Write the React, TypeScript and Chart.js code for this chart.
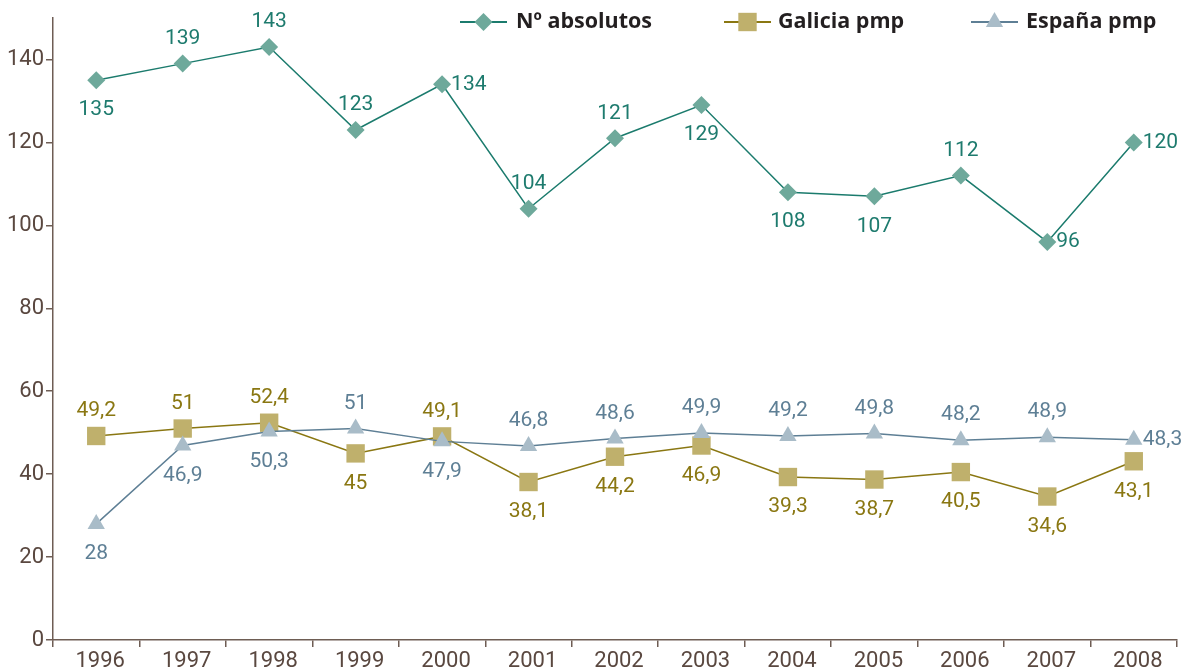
import React, { useEffect, useRef } from "react";
import { Chart, registerables } from "chart.js";

Chart.register(...registerables);

const years = ["1996", "1997", "1998", "1999", "2000", "2001", "2002", "2003", "2004", "2005", "2006", "2007", "2008"];
const absolutos = [135, 139, 143, 123, 134, 104, 121, 129, 108, 107, 112, 96, 120];
const galicia = [49.2, 51, 52.4, 45, 49.1, 38.1, 44.2, 46.9, 39.3, 38.7, 40.5, 34.6, 43.1];
const espana = [28, 46.9, 50.3, 51, 47.9, 46.8, 48.6, 49.9, 49.2, 49.8, 48.2, 48.9, 48.3];

const absPos = ["below", "above", "above", "above", "right", "above", "above", "below", "below", "below", "above", "right", "right"];
const galPos = ["above", "above", "above", "below", "above", "below", "below", "below", "below", "below", "below", "below", "below"];
const espPos = ["below", "below", "below", "above", "below", "above", "above", "above", "above", "above", "above", "above", "right"];

const seriesNames = ["Nº absolutos", "Galicia pmp", "España pmp"];

const AXIS = "#6e5d54";
const TICK_TXT = "#5a4840";
const FONT = "Roboto, 'Open Sans', sans-serif";
const LEG_FONT = "'Open Sans', Roboto, sans-serif";

const absLine = "#1b7b6d";
const absFill = "#6ea99b";
const absTxt = "#1e7b6e";
const galLine = "#8a7712";
const galFill = "#bfb06c";
const galTxt = "#8a7712";
const espLine = "#5e7f95";
const espFill = "#a9bcc8";
const espTxt = "#5e7f95";

const fmt = (v: number) => String(v).replace(".", ",");

function drawMarker(ctx: CanvasRenderingContext2D, style: string, r: number, x: number, y: number) {
  ctx.beginPath();
  if (style === "rectRot") {
    ctx.moveTo(x, y - r);
    ctx.lineTo(x + r, y);
    ctx.lineTo(x, y + r);
    ctx.lineTo(x - r, y);
  } else if (style === "rect") {
    const s = r * Math.SQRT1_2;
    ctx.rect(x - s, y - s, 2 * s, 2 * s);
  } else {
    const w = (r * Math.sqrt(3)) / 2;
    ctx.moveTo(x, y - r);
    ctx.lineTo(x + w, y + r / 2);
    ctx.lineTo(x - w, y + r / 2);
  }
  ctx.closePath();
  ctx.fill();
}

const labelPlugin = {
  id: "pointLabels",
  afterDatasetsDraw(chart: any) {
    const ctx = chart.ctx;
    const positions = [absPos, galPos, espPos];
    const colors = [absTxt, galTxt, espTxt];
    ctx.save();
    ctx.font = `400 21px ${FONT}`;
    chart.data.datasets.forEach((ds: any, di: number) => {
      const meta = chart.getDatasetMeta(di);
      meta.data.forEach((pt: any, i: number) => {
        const pos = positions[di][i];
        const txt = fmt(ds.data[i]);
        ctx.fillStyle = colors[di];
        let x = pt.x;
        let y = pt.y;
        ctx.textBaseline = "middle";
        if (pos === "above") {
          ctx.textAlign = "center";
          y = pt.y - 25;
        } else if (pos === "below") {
          ctx.textAlign = "center";
          y = pt.y + 30;
        } else {
          ctx.textAlign = "left";
          x = pt.x + 9;
        }
        ctx.fillText(txt, x, y);
      });
    });
    ctx.restore();
  },
};

const legendPlugin = {
  id: "customLegend",
  afterDraw(chart: any) {
    const ctx = chart.ctx;
    const items = [
      { x: 460, text: 516, line: absLine, fill: absFill, style: "rectRot", r: 9 },
      { x: 724, text: 778, line: galLine, fill: galFill, style: "rect", r: 13 },
      { x: 971, text: 1026, line: espLine, fill: espFill, style: "triangle", r: 10 },
    ];
    const y = 22;
    ctx.save();
    items.forEach((it, i) => {
      ctx.strokeStyle = it.line;
      ctx.lineWidth = 2;
      ctx.beginPath();
      ctx.moveTo(it.x, y);
      ctx.lineTo(it.x + 47, y);
      ctx.stroke();
      ctx.fillStyle = it.fill;
      drawMarker(ctx, it.style, it.r, it.x + 23.5, y);
      ctx.fillStyle = "#231f20";
      ctx.font = `bold 21.5px ${LEG_FONT}`;
      ctx.textAlign = "left";
      ctx.textBaseline = "middle";
      ctx.fillText(seriesNames[i], it.text, y);
    });
    ctx.restore();
  },
};

export default function App() {
  const ref = useRef<HTMLCanvasElement>(null);
  useEffect(() => {
    if (!ref.current) return;
    const chart = new Chart(ref.current, {
      type: "line",
      data: {
        labels: years,
        datasets: [
          {
            label: seriesNames[0],
            data: absolutos,
            borderColor: absLine,
            borderWidth: 1.5,
            pointStyle: "rectRot",
            pointRadius: 9,
            pointBackgroundColor: absFill,
            pointBorderColor: absFill,
            pointBorderWidth: 0,
            order: 2,
            tension: 0,
          },
          {
            label: seriesNames[1],
            data: galicia,
            borderColor: galLine,
            borderWidth: 1.5,
            pointStyle: "rect",
            pointRadius: 13,
            pointBackgroundColor: galFill,
            pointBorderColor: galFill,
            pointBorderWidth: 0,
            order: 1,
            tension: 0,
          },
          {
            label: seriesNames[2],
            data: espana,
            borderColor: espLine,
            borderWidth: 1.5,
            pointStyle: "triangle",
            pointRadius: 10,
            pointBackgroundColor: espFill,
            pointBorderColor: espFill,
            pointBorderWidth: 0,
            order: 0,
            tension: 0,
          },
        ],
      },
      options: {
        animation: false,
        responsive: false,
        maintainAspectRatio: false,
        layout: { padding: { top: 18, right: 10, left: 0, bottom: 0 } },
        plugins: {
          legend: { display: false },
          tooltip: { enabled: false },
        },
        scales: {
          x: {
            offset: true,
            grid: {
              display: true,
              offset: true,
              drawOnChartArea: false,
              drawTicks: true,
              tickLength: 7,
              color: AXIS,
              lineWidth: 1.5,
            },
            border: { display: true, color: AXIS, width: 1.5 },
            ticks: {
              color: TICK_TXT,
              font: { family: FONT, size: 22, weight: "400" },
              padding: 1,
              labelOffset: 4,
              maxRotation: 0,
              autoSkip: false,
            },
            afterFit: (s: any) => {
              s.height = 30;
            },
          },
          y: {
            min: 0,
            max: 150,
            ticks: {
              stepSize: 20,
              color: TICK_TXT,
              font: { family: FONT, size: 22, weight: "400" },
              padding: 2,
            },
            afterBuildTicks: (s: any) => {
              s.ticks = s.ticks.filter((t: any) => t.value <= 140);
            },
            grid: {
              display: true,
              drawOnChartArea: false,
              drawTicks: true,
              tickLength: 7,
              color: AXIS,
              lineWidth: 1.5,
            },
            border: { display: true, color: AXIS, width: 1.5 },
            afterFit: (s: any) => {
              s.width = 53;
            },
          },
        },
      },
      plugins: [labelPlugin, legendPlugin],
    });
    return () => chart.destroy();
  }, []);
  return (
    <div style={{ position: "fixed", left: 0, top: 0, width: 1190, height: 670, background: "#fff" }}>
      <canvas ref={ref} width={1190} height={670} style={{ width: 1190, height: 670 }} />
    </div>
  );
}
